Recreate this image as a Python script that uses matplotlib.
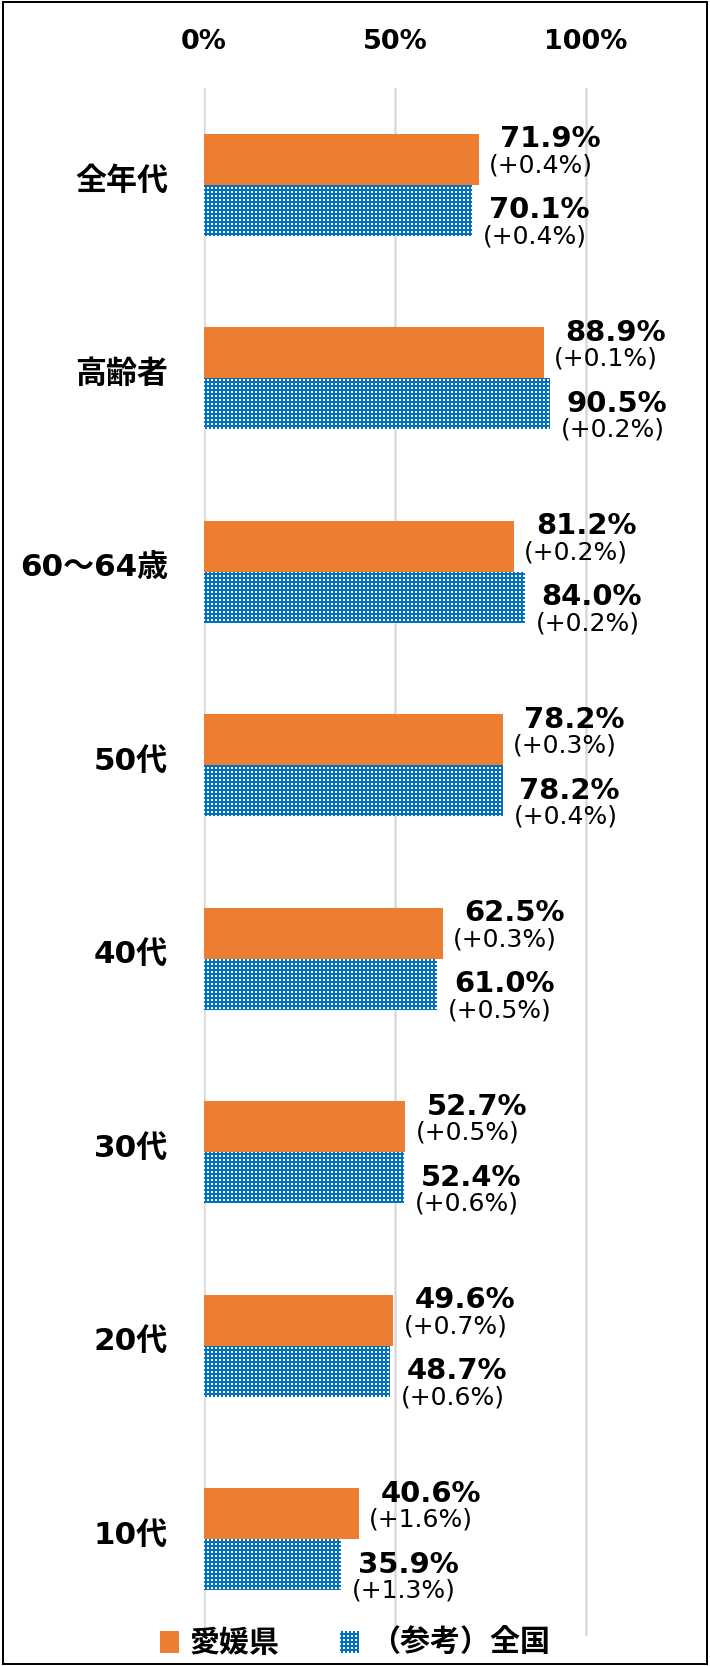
import matplotlib
matplotlib.use("Agg")
import matplotlib.pyplot as plt
from matplotlib.patches import Rectangle
import matplotlib.transforms as mtransforms
import numpy as np

categories = ['全年代', '高齢者', '60〜64歳', '50代', '40代', '30代', '20代', '10代']
ehime = [71.9, 88.9, 81.2, 78.2, 62.5, 52.7, 49.6, 40.6]
zenkoku = [70.1, 90.5, 84.0, 78.2, 61.0, 52.4, 48.7, 35.9]
ehime_diff = ['+0.4', '+0.1', '+0.2', '+0.3', '+0.3', '+0.5', '+0.7', '+1.6']
zenkoku_diff = ['+0.4', '+0.2', '+0.2', '+0.4', '+0.5', '+0.6', '+0.6', '+1.3']
xticks = [0, 50, 100]
xtick_labels = ['0%', '50%', '100%']
series_names = ['愛媛県', '（参考）全国']

ORANGE = '#ED7D31'
BLUE = '#0070C0'
GRID = '#D9D9D9'

plt.rcParams['hatch.linewidth'] = 2.0
DPI = 72
fig = plt.figure(figsize=(710 / DPI, 1666 / DPI), dpi=DPI)
ax = fig.add_axes([204 / 710, 30 / 1666, 458.4 / 710, 1548 / 1666])

y = np.arange(len(categories))
h = 0.264
b1 = ax.barh(y - h / 2, ehime, height=h, color=ORANGE, linewidth=0, label=series_names[0], zorder=3)
b2 = ax.barh(y + h / 2, zenkoku, height=h, facecolor='white', edgecolor=BLUE, hatch='+++',
             linewidth=0, label=series_names[1], zorder=3)

ax.set_xlim(0, 120)
ax.set_ylim(len(categories) - 0.5, -0.5)
ax.set_xticks(xticks)
ax.set_xticklabels(xtick_labels, fontsize=27, fontweight='bold', family='DejaVu Sans')
ax.xaxis.tick_top()
ax.tick_params(axis='x', length=0, pad=33)
ax.set_yticks(y)
ax.set_yticklabels(categories, fontsize=31, fontweight='bold',
                   family=['DejaVu Sans', 'Noto Sans CJK JP'])
ax.tick_params(axis='y', length=0, pad=36)
shift = mtransforms.ScaledTranslation(0, 7 / 72, fig.dpi_scale_trans)
for t in ax.yaxis.get_major_ticks():
    t.label1.set_transform(t.label1.get_transform() + shift)
ax.grid(axis='x', color=GRID, linewidth=2.5, zorder=0)
ax.grid(axis='y', visible=False)
for s in ax.spines.values():
    s.set_visible(False)

for i in range(len(categories)):
    ax.annotate(f'{ehime[i]:.1f}%', (ehime[i], y[i] - h / 2), xytext=(72, 20),
                textcoords='offset points', ha='center', va='center',
                fontsize=29, fontweight='bold', family='DejaVu Sans', zorder=5)
    ax.annotate(f'({ehime_diff[i]}%)', (ehime[i], y[i] - h / 2), xytext=(62, -6),
                textcoords='offset points', ha='center', va='center',
                fontsize=25, family='DejaVu Sans', zorder=5)
    ax.annotate(f'{zenkoku[i]:.1f}%', (zenkoku[i], y[i] + h / 2), xytext=(67, 0),
                textcoords='offset points', ha='center', va='center',
                fontsize=29, fontweight='bold', family='DejaVu Sans', zorder=5)
    ax.annotate(f'({zenkoku_diff[i]}%)', (zenkoku[i], y[i] + h / 2), xytext=(63, -26),
                textcoords='offset points', ha='center', va='center',
                fontsize=25, family='DejaVu Sans', zorder=5)

leg = fig.legend(handles=[b1, b2], labels=series_names, loc='center',
                 bbox_to_anchor=(0.5, 23 / 1666), ncol=2, frameon=False,
                 prop={'family': ['Noto Sans CJK JP', 'DejaVu Sans'], 'weight': 'bold', 'size': 30},
                 handlelength=0.64, handleheight=0.75, handletextpad=0.36, columnspacing=2.0,
                 borderaxespad=0, borderpad=0)

fig.patches.append(Rectangle((3 / 710, 2 / 1666), 704 / 710, 1662 / 1666, transform=fig.transFigure,
                             fill=False, edgecolor='black', linewidth=2, zorder=10))

fig.savefig('out.png', dpi=DPI)
